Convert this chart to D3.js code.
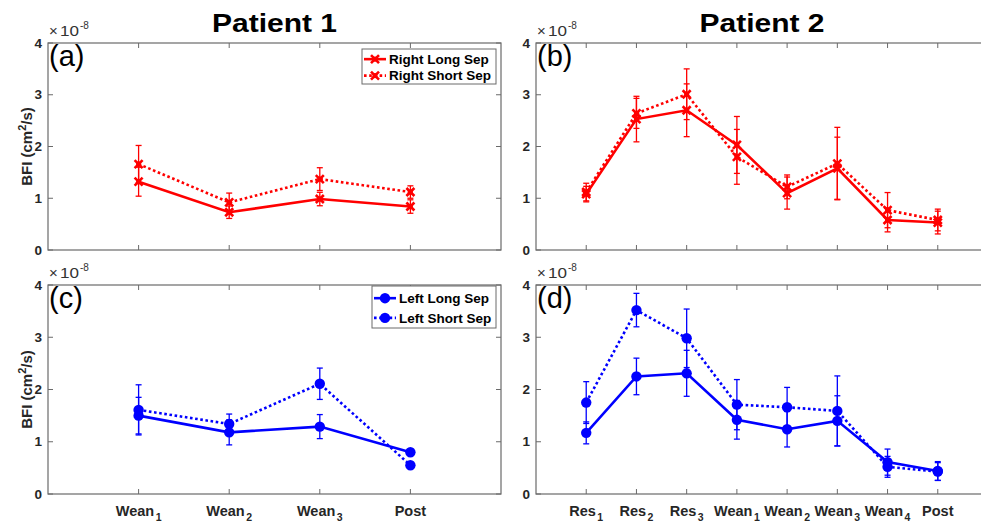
<!DOCTYPE html>
<html><head><meta charset="utf-8">
<script src="https://cdn.jsdelivr.net/npm/d3@7"></script>
<style>
body{margin:0;background:#fff;}
svg{display:block;font-family:"Liberation Sans",Arial,sans-serif;}
</style></head>
<body><svg id="c" width="981" height="524"></svg>
<script>
// ---- data ----
const cats1 = [["Wean","1"],["Wean","2"],["Wean","3"],["Post",""]];
const cats2 = [["Res","1"],["Res","2"],["Res","3"],["Wean","1"],["Wean","2"],["Wean","3"],["Wean","4"],["Post",""]];
const yTicks = [0,1,2,3,4];
const titles = ["Patient 1","Patient 2"];

// Patient 1, right hemisphere (x1e-8)
const aLong = [1.32,0.73,0.985,0.84];
const aLongErr = [0.28,0.12,0.13,0.13];
const aShort = [1.66,0.92,1.37,1.12];
const aShortErr = [0.36,0.18,0.22,0.12];
// Patient 2, right hemisphere
const bLong = [1.08,2.53,2.70,2.03,1.10,1.58,0.58,0.53];
const bLongErr = [0.15,0.44,0.51,0.55,0.31,0.60,0.23,0.22];
const bShort = [1.12,2.64,3.01,1.80,1.22,1.67,0.77,0.58];
const bShortErr = [0.17,0.29,0.49,0.53,0.23,0.70,0.34,0.21];
// Patient 1, left hemisphere
const cLong = [1.50,1.18,1.29,0.80];
const cLongErr = [0.35,0.24,0.23,0.05];
const cShort = [1.61,1.34,2.11,0.55];
const cShortErr = [0.48,0.19,0.30,0.03];
// Patient 2, left hemisphere
const dLong = [1.17,2.25,2.31,1.42,1.24,1.40,0.61,0.44];
const dLongErr = [0.21,0.35,0.44,0.37,0.34,0.48,0.25,0.18];
const dShort = [1.75,3.52,2.98,1.71,1.66,1.59,0.52,0.43];
const dShortErr = [0.40,0.32,0.56,0.48,0.38,0.67,0.20,0.17];

const RED = "#ff0000", BLUE = "#0000ff";
const AX = "#6a6a6a", TXT = "#262626";
const svg = d3.select("#c");

function panel(opt){
  const {x0,x1,y0,y1,cats,long,longErr,short,shortErr,color,marker,letter,showX,showYLabel,legend} = opt;
  const x = d3.scaleLinear().domain([0,cats.length+1]).range([x0,x1]);
  const y = d3.scaleLinear().domain([0,4]).range([y1,y0]);
  const g = svg.append("g");
  const idx = cats.map((c,i)=>i+1);
  // box
  g.append("rect").attr("x",x0).attr("y",y0).attr("width",x1-x0).attr("height",y1-y0)
    .attr("fill","none").attr("stroke",AX).attr("stroke-width",1.2);
  // ticks
  const tk = 5;
  idx.forEach(i=>{
    g.append("line").attr("x1",x(i)).attr("x2",x(i)).attr("y1",y1).attr("y2",y1-tk).attr("stroke",AX);
    g.append("line").attr("x1",x(i)).attr("x2",x(i)).attr("y1",y0).attr("y2",y0+tk).attr("stroke",AX);
  });
  yTicks.forEach(v=>{
    g.append("line").attr("x1",x0).attr("x2",x0+tk).attr("y1",y(v)).attr("y2",y(v)).attr("stroke",AX);
    g.append("line").attr("x1",x1).attr("x2",x1-tk).attr("y1",y(v)).attr("y2",y(v)).attr("stroke",AX);
    g.append("text").attr("x",x0-6).attr("y",y(v)+4.5).attr("text-anchor","end")
      .attr("font-size",13.5).attr("font-weight","bold").attr("fill",TXT).text(v);
  });
  // exponent
  g.append("text").attr("x",x0+1).attr("y",y0-7).attr("font-size",15).attr("fill","#333").text("×");
  g.append("text").attr("x",x0+12).attr("y",y0-7).attr("font-size",14).attr("fill","#333")
    .attr("textLength",19).attr("lengthAdjust","spacingAndGlyphs").text("10");
  g.append("text").attr("x",x0+32).attr("y",y0-14).attr("font-size",10).attr("fill","#333").text("-8");
  // x labels
  if(showX){
    cats.forEach((c,i)=>{
      const t = g.append("text").attr("x",x(i+1)).attr("y",y1+22).attr("text-anchor","middle")
        .attr("font-size",14.5).attr("font-weight","bold").attr("fill",TXT);
      t.append("tspan").text(c[0]);
      if(c[1]) t.append("tspan").attr("dy",5).attr("dx",1.5).attr("font-size",10.5).text(c[1]);
    });
  }
  if(showYLabel){
    const t = g.append("text").attr("transform",`translate(${x0-16},${(y0+y1)/2}) rotate(-90)`)
      .attr("text-anchor","middle").attr("font-size",15).attr("font-weight","bold").attr("fill",TXT);
    t.append("tspan").text("BFI (cm");
    t.append("tspan").attr("dy",-6).attr("font-size",11).text("2");
    t.append("tspan").attr("dy",6).text("/s)");
  }
  // panel letter
  g.append("text").attr("x",x0+1).attr("y",y0+23).attr("font-size",29)
    .attr("font-family","'Liberation Sans',Arial,sans-serif").attr("fill","#000").text(`(${letter})`);

  const clipId = "clip"+letter;
  svg.append("clipPath").attr("id",clipId).append("rect").attr("x",x0).attr("y",y0-10).attr("width",x1-x0).attr("height",y1-y0+20);
  const pg = g.append("g").attr("clip-path",`url(#${clipId})`);

  function drawMarker(gg, cx, cy){
    if(marker==="x"){
      const s=4;
      gg.append("path").attr("d",`M${cx-s},${cy-s}L${cx+s},${cy+s}M${cx-s},${cy+s}L${cx+s},${cy-s}`)
        .attr("stroke",color).attr("stroke-width",2.6).attr("fill","none");
      gg.append("rect").attr("x",cx-2.5).attr("y",cy-2.5).attr("width",5).attr("height",5).attr("fill",color);
    } else {
      gg.append("circle").attr("cx",cx).attr("cy",cy).attr("r",5.2).attr("fill",color);
    }
  }
  function series(vals, errs, dashed){
    const line = d3.line().x((d,i)=>x(i+1)).y(d=>y(d));
    pg.append("path").attr("d",line(vals)).attr("fill","none").attr("stroke",color)
      .attr("stroke-width",2.6).attr("stroke-dasharray",dashed?"2.6,2.6":null);
    vals.forEach((v,i)=>{
      const cx = x(i+1), lo=y(v-errs[i]), hi=y(v+errs[i]);
      pg.append("line").attr("x1",cx).attr("x2",cx).attr("y1",lo).attr("y2",hi).attr("stroke",color).attr("stroke-width",1.3);
      [lo,hi].forEach(yy=>pg.append("line").attr("x1",cx-3).attr("x2",cx+3).attr("y1",yy).attr("y2",yy).attr("stroke",color).attr("stroke-width",1.3));
      drawMarker(pg, cx, y(v));
    });
  }
  series(short, shortErr, true);
  series(long, longErr, false);

  if(legend){
    const [lx,ly,lw,lh,labels] = legend;
    const lg = g.append("g");
    lg.append("rect").attr("x",lx).attr("y",ly).attr("width",lw).attr("height",lh).attr("fill","#fff").attr("stroke",AX).attr("stroke-width",1);
    labels.forEach((lab,k)=>{
      const yy = ly + lh*(k===0?0.29:0.76);
      lg.append("line").attr("x1",lx+2).attr("x2",lx+24).attr("y1",yy).attr("y2",yy).attr("stroke",color)
        .attr("stroke-width",2.6).attr("stroke-dasharray",k===1?"2.6,2.6":null);
      drawMarker(lg, lx+13, yy);
      lg.append("text").attr("x",lx+27).attr("y",yy+4.8).attr("font-size",13.5).attr("font-weight","bold").attr("fill","#000").text(lab);
    });
  }
}

// titles
[[274.5,titles[0]],[762,titles[1]]].forEach(([cx,t])=>{
  svg.append("text").attr("x",cx-62.5).attr("y",32).attr("font-size",26.5).attr("font-weight","bold")
    .attr("textLength",125).attr("lengthAdjust","spacingAndGlyphs").text(t);
});

panel({x0:48,x1:501,y0:43,y1:250,cats:cats1,long:aLong,longErr:aLongErr,short:aShort,shortErr:aShortErr,
  color:RED,marker:"x",letter:"a",showX:false,showYLabel:true,legend:[362,49,134,35,["Right Long Sep","Right Short Sep"]]});
panel({x0:536,x1:988,y0:43,y1:250,cats:cats2,long:bLong,longErr:bLongErr,short:bShort,shortErr:bShortErr,
  color:RED,marker:"x",letter:"b",showX:false,showYLabel:false});
panel({x0:48,x1:501,y0:285,y1:494,cats:cats1,long:cLong,longErr:cLongErr,short:cShort,shortErr:cShortErr,
  color:BLUE,marker:"o",letter:"c",showX:true,showYLabel:true,legend:[372,286,124,42,["Left Long Sep","Left Short Sep"]]});
panel({x0:536,x1:988,y0:285,y1:494,cats:cats2,long:dLong,longErr:dLongErr,short:dShort,shortErr:dShortErr,
  color:BLUE,marker:"o",letter:"d",showX:true,showYLabel:false});
</script></body></html>
